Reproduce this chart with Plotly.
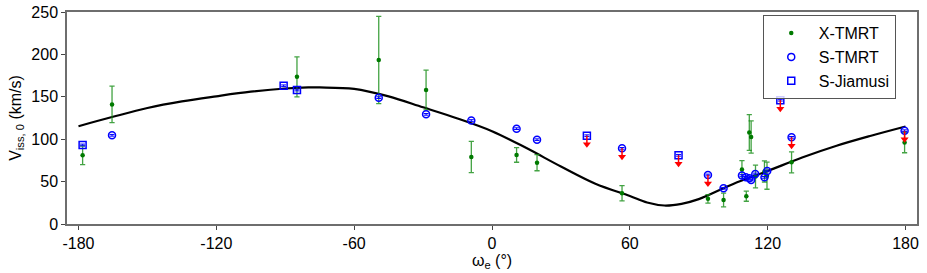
import plotly.graph_objects as go

# ---- data ----
# model curve (read at sample phases)
curve_x = [-180, -165, -150, -135, -120, -105, -90, -80, -75, -60, -45, -30, -15, 0,
           15, 30, 45, 60, 67.5, 75, 82.5, 90, 105, 120, 135, 150, 165, 180]
curve_y = [115.3, 126.4, 136.8, 144.6, 150.6, 156.0, 159.8, 161.0, 161.0, 159.4, 150.5, 137.6, 124.5, 109.5,
           89.5, 67.8, 47.5, 33.0, 25.3, 21.8, 23.8, 29.3, 47.2, 62.5, 78.4, 92.3, 104.1, 115.0]

# X-TMRT
xt_x = [-178.2, -165.4, -84.9, -49.3, -28.7, -9.0, 10.7, 19.6, 56.6, 94.0, 100.8, 108.8,
        110.7, 112.0, 112.8, 114.7, 118.6, 119.7, 130.4, 179.6]
xt_y = [81.0, 141.0, 173.5, 193.4, 158.0, 79.0, 81.4, 72.3, 36.2, 29.7, 28.3, 64.3,
        32.8, 107.9, 102.6, 56.0, 62.0, 57.0, 72.7, 96.0]
xt_err = [11.0, 21.5, 23.6, 51.5, 23.4, 18.5, 8.6, 9.5, 9.0, 5.0, 8.0, 10.5,
          6.0, 21.0, 19.0, 13.5, 12.5, 16.0, 12.4, 12.0]

# S-TMRT
st_x = [-165.4, -49.3, -28.7, -9.0, 10.7, 19.6, 56.6, 94.0, 100.8, 108.8, 110.5, 112.0,
        112.8, 114.6, 118.6, 119.8, 130.4, 179.6]
st_y = [104.6, 149.0, 129.3, 122.0, 112.4, 99.4, 89.2, 57.8, 42.1, 57.2, 55.0, 54.0,
        51.9, 59.0, 55.0, 62.5, 102.2, 110.0]

# S-Jiamusi
sj_x = [-178.2, -90.7, -84.9, 41.3, 81.2, 125.5]
sj_y = [93.2, 163.0, 158.0, 104.1, 81.0, 146.0]

# upper limits (red arrows)
ul_x = [41.3, 56.6, 81.2, 94.0, 125.5, 130.4, 179.6]
ul_y = [104.1, 89.2, 81.0, 57.8, 146.0, 102.2, 110.0]
arrow_len = 10.0

x_ticks = [-180, -120, -60, 0, 60, 120, 180]
y_ticks = [0, 50, 100, 150, 200, 250]

FONT = "Liberation Sans, Arial, sans-serif"

fig = go.Figure()

fig.add_trace(go.Scatter(
    x=curve_x, y=curve_y, mode="lines", line=dict(color="black", width=2.2, shape="spline", smoothing=1.0),
    showlegend=False, hoverinfo="skip"))

fig.add_trace(go.Scatter(
    x=xt_x, y=xt_y, mode="markers", name="X-TMRT",
    marker=dict(color="#007a00", size=4.5, symbol="circle"),
    error_y=dict(type="data", array=xt_err, color="rgba(20,140,20,0.8)", thickness=1.3, width=2.6)))

fig.add_trace(go.Scatter(
    x=st_x, y=st_y, mode="markers", name="S-TMRT",
    marker=dict(color="blue", size=7, symbol="circle-open", line=dict(color="blue", width=1.5)),
    error_y=dict(type="data", array=[1.0] * len(st_x), color="blue", thickness=1, width=2.5)))

fig.add_trace(go.Scatter(
    x=sj_x, y=sj_y, mode="markers", name="S-Jiamusi",
    marker=dict(color="blue", size=7, symbol="square-open", line=dict(color="blue", width=1.5)),
    error_y=dict(type="data", array=[1.0] * len(sj_x), color="blue", thickness=1, width=2.5)))

fig.add_trace(go.Scatter(
    x=ul_x, y=[v - arrow_len for v in ul_y], mode="markers", showlegend=False,
    marker=dict(color="red", size=7, symbol="triangle-down"),
    error_y=dict(type="data", symmetric=False, array=[arrow_len] * len(ul_x),
                 arrayminus=[0] * len(ul_x), color="red", thickness=1.5, width=0),
    hoverinfo="skip"))

axis_common = dict(showline=True, linecolor="#6e6e6e", linewidth=1.5, mirror=True,
                   ticks="outside", ticklen=4, tickcolor="#444", showgrid=False, zeroline=False,
                   tickfont=dict(family=FONT, size=16, color="black"))

fig.update_layout(
    width=927, height=273,
    margin=dict(l=67, r=10, t=12, b=49),
    paper_bgcolor="white", plot_bgcolor="white",
    font=dict(family=FONT, size=16, color="black"),
    xaxis=dict(range=[-185, 185], tickvals=x_ticks, ticktext=[str(v) for v in x_ticks],
               title=dict(text="ω<sub>e</sub> (°)", font=dict(family=FONT, size=16), standoff=0),
               automargin=False, **axis_common),
    yaxis=dict(range=[0, 250], tickvals=y_ticks,
               title=dict(text="V<sub>iss, 0</sub> (km/s)", font=dict(family=FONT, size=16), standoff=6),
               automargin=False, **axis_common),
    legend=dict(x=0.975, y=0.985, xanchor="right", yanchor="top",
                bordercolor="#555", borderwidth=1, bgcolor="rgba(255,255,255,0.8)",
                font=dict(family=FONT, size=16), itemwidth=45, tracegroupgap=0),
)

# remove the default 8px page margin so the figure sits at the window origin
fig.write_html("out.html", config={"displayModeBar": False},
               post_script="document.body.style.margin='0';")
